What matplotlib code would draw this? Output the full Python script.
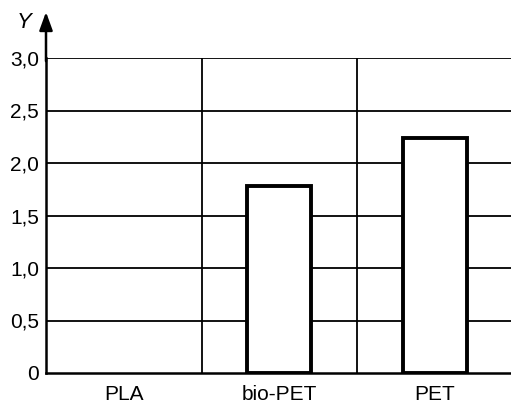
import matplotlib
matplotlib.use('Agg')
import matplotlib.pyplot as plt
from matplotlib.ticker import FuncFormatter

plt.rcParams['font.family'] = ['Liberation Sans', 'DejaVu Sans']

# Data
categories = ['PLA', 'bio-PET', 'PET']
values = [0.0, 1.78, 2.24]
y_ticks = [0, 0.5, 1.0, 1.5, 2.0, 2.5, 3.0]

fig = plt.figure(figsize=(5.11, 4.07), dpi=100)
ax = fig.add_axes([46 / 511, 1 - 373 / 407, 1 - 46 / 511, (373 - 58) / 407])

x = list(range(len(categories)))

# Horizontal grid lines and category separators
for t in y_ticks[1:]:
    ax.axhline(t, color='black', lw=1.3, zorder=1)
for b in [0.5, 1.5]:
    ax.axvline(b, color='black', lw=1.3, zorder=1)

# Bars (PLA has zero height, so nothing is drawn there)
for xi, v in zip(x, values):
    if v > 0:
        ax.bar(xi, v, width=0.41, facecolor='white', edgecolor='black',
               linewidth=2.8, zorder=3)

ax.set_xlim(-0.5, 2.49)
ax.set_ylim(0, 3.0)
ax.set_yticks(y_ticks)
ax.yaxis.set_major_formatter(FuncFormatter(
    lambda v, p: '0' if v == 0 else f'{v:.1f}'.replace('.', ',')))
ax.set_xticks(x)
ax.set_xticklabels(categories)
ax.tick_params(axis='both', length=0, labelsize=15)
ax.tick_params(axis='y', pad=5)
ax.tick_params(axis='x', pad=9)

for s in ['top', 'right']:
    ax.spines[s].set_visible(False)
for s in ['left', 'bottom']:
    ax.spines[s].set_linewidth(1.8)
    ax.spines[s].set_color('black')

# Y axis arrow going above the 3,0 line
ax.annotate('', xy=(0, 1 + 46 / 315), xytext=(0, 0.99), xycoords='axes fraction',
            arrowprops=dict(arrowstyle='-|>,head_length=1.1,head_width=0.4',
                            color='black', lw=1.8, shrinkA=0, shrinkB=0),
            annotation_clip=False)
ax.text(-22 / 465, 1 + 36 / 315, 'Y', transform=ax.transAxes, fontsize=16,
        style='italic', ha='center', va='center')

fig.savefig('out.png', dpi=100)
